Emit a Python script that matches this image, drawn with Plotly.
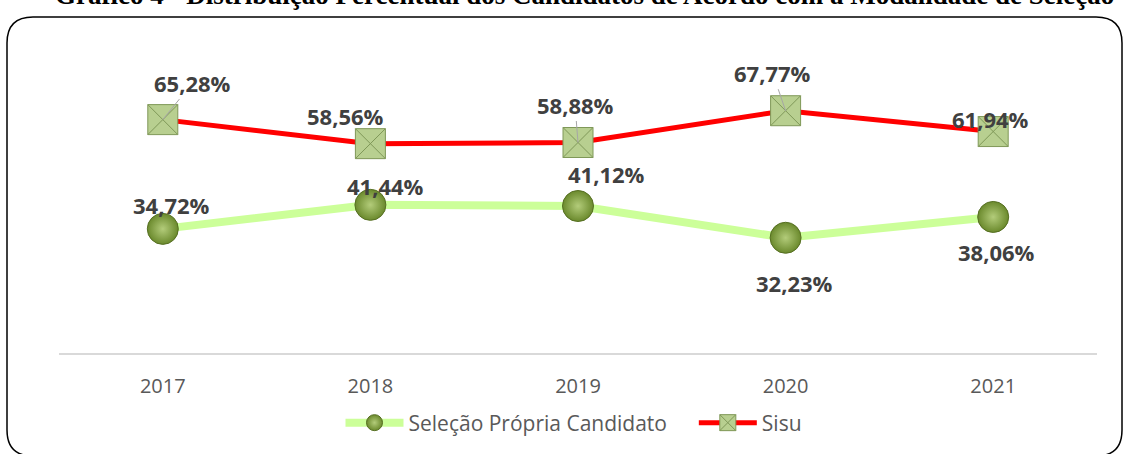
import plotly.graph_objects as go

years = ["2017", "2018", "2019", "2020", "2021"]
selecao = [34.72, 41.44, 41.12, 32.23, 38.06]
sisu = [65.28, 58.56, 58.88, 67.77, 61.94]
series_names = ["Seleção Própria Candidato", "Sisu"]
title_text = "Gráfico 4 - Distribuição Percentual dos Candidatos de Acordo com a Modalidade de Seleção"

# label offsets in pixels (text centre relative to point) and leader lines
sisu_off = [(30, -37, True), (-25, -28, False), (-3, -38, True), (-13, -38, True), (-3, -13, False)]
sel_off = [(9, -24, False), (15, -19, False), (28, -32, False), (9, 45, False), (3, 35, False)]

W, H = 1129, 454
L, R, T, B = 59, 32, 67, 101
PW, PH = W - L - R, H - T - B


def px(x):
    return (x - L) / PW


def py(y):
    return (H - B - y) / PH


def fmt(v):
    return f"{v:.2f}%".replace(".", ",")


fig = go.Figure()
fig.add_trace(go.Scatter(
    x=years, y=selecao, name=series_names[0] + "\u00a0" * 4, mode="lines+markers",
    line=dict(color="#ccff99", width=8),
    marker=dict(symbol="circle", size=31, color="#6a892c",
                gradient=dict(type="radial", color="#b3cc7a"),
                line=dict(color="#566f22", width=1)),
))
fig.add_trace(go.Scatter(
    x=years, y=sisu, name=series_names[1], mode="lines+markers",
    line=dict(color="#ff0000", width=5),
    marker=dict(symbol="square-x", size=30, color="#b8cf90",
                line=dict(color="#7f9858", width=1)),
))

annotations = []
for vals, offs in ((sisu, sisu_off), (selecao, sel_off)):
    for i, (v, (ax, ay, lead)) in enumerate(zip(vals, offs)):
        annotations.append(dict(
            x=i, y=v, xref="x", yref="y", text=fmt(v), showarrow=True,
            ax=ax, ay=ay, arrowhead=0, standoff=0, arrowwidth=1,
            arrowcolor="#a6a6a6" if lead else "rgba(0,0,0,0)",
            font=dict(family="Open Sans", size=22, color="#404040", weight="bold"),
        ))

annotations.append(dict(
    x=px(584), y=py(12), xref="paper", yref="paper", text=title_text,
    showarrow=False, xanchor="center", yanchor="bottom",
    font=dict(family="Liberation Serif", size=27, color="#000000", weight="bold"),
))

x0, y0, x1, y1, r = 7, 17, 1122, 456, 26
path = (
    f"M {px(x0 + r)},{py(y0)} L {px(x1 - r)},{py(y0)} "
    f"Q {px(x1)},{py(y0)} {px(x1)},{py(y0 + r)} L {px(x1)},{py(y1 - r)} "
    f"Q {px(x1)},{py(y1)} {px(x1 - r)},{py(y1)} L {px(x0 + r)},{py(y1)} "
    f"Q {px(x0)},{py(y1)} {px(x0)},{py(y1 - r)} L {px(x0)},{py(y0 + r)} "
    f"Q {px(x0)},{py(y0)} {px(x0 + r)},{py(y0)} Z"
)

fig.update_layout(
    width=W, height=H,
    margin=dict(l=L, r=R, t=T, b=B, autoexpand=False),
    paper_bgcolor="white", plot_bgcolor="white",
    showlegend=True,
    legend=dict(orientation="h", x=px(574), xanchor="center", y=py(423), yanchor="middle",
                font=dict(family="Open Sans", size=21, color="#595959"),
                itemwidth=58, bgcolor="rgba(0,0,0,0)"),
    annotations=annotations,
    shapes=[dict(type="path", path=path, xref="paper", yref="paper",
                 line=dict(color="black", width=1.5), layer="above")],
    xaxis=dict(type="category", range=[-0.5, 4.5], showgrid=False, zeroline=False,
               showline=True, linecolor="#d9d9d9", linewidth=1.5,
               ticks="outside", ticklen=14, tickcolor="rgba(0,0,0,0)",
               tickfont=dict(family="Open Sans", size=20, color="#595959")),
    yaxis=dict(range=[0, 80], showgrid=False, zeroline=False, showticklabels=False,
               showline=False),
)

fig.write_html("out.html", config={"displayModeBar": False},
               post_script="document.body.style.margin='0';document.body.style.overflow='hidden';")
